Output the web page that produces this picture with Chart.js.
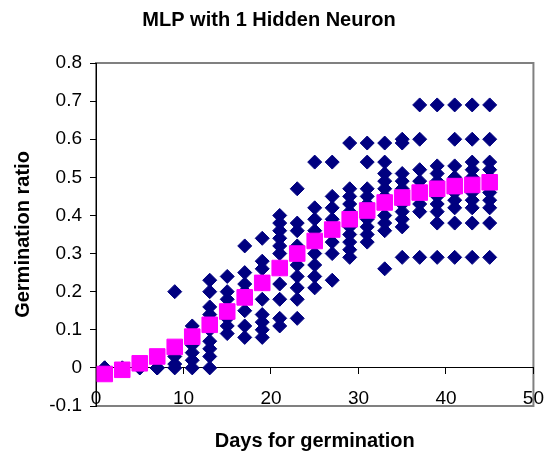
<!DOCTYPE html>
<html>
<head>
<meta charset="utf-8">
<script src="https://cdn.jsdelivr.net/npm/chart.js@4"></script>
<style>
  body { margin: 0; background: #fff; }
  #wrap { width: 557px; height: 459px; }
</style>
</head>
<body>
<div id="wrap"><canvas id="mlpChart" width="557" height="459"></canvas></div>
<script>
// === DATOS ===
const days = [1, 3, 5, 7, 9, 11, 13, 15, 17, 19, 21, 23, 25, 27, 29, 31, 33, 35, 37, 39, 41, 43, 45];

// observed germination ratio per day (replicates)
const observed = [
  [0, 0, 0],
  [0, 0],
  [0, 0],
  [0, 0, 0],
  [0, 0.01, 0.03, 0.2],
  [0, 0.02, 0.04, 0.06, 0.08, 0.11],
  [0, 0.03, 0.05, 0.07, 0.1, 0.12, 0.14, 0.16, 0.2, 0.23],
  [0.09, 0.11, 0.13, 0.15, 0.18, 0.2, 0.24],
  [0.08, 0.11, 0.15, 0.18, 0.2, 0.22, 0.25, 0.32],
  [0.08, 0.1, 0.12, 0.14, 0.18, 0.22, 0.26, 0.28, 0.34],
  [0.11, 0.13, 0.18, 0.22, 0.26, 0.3, 0.32, 0.34, 0.36, 0.38, 0.4],
  [0.13, 0.18, 0.21, 0.24, 0.27, 0.3, 0.32, 0.36, 0.38, 0.47],
  [0.21, 0.24, 0.27, 0.3, 0.33, 0.36, 0.39, 0.42, 0.54],
  [0.23, 0.3, 0.33, 0.36, 0.39, 0.42, 0.45, 0.54],
  [0.29, 0.31, 0.33, 0.35, 0.37, 0.39, 0.41, 0.43, 0.45, 0.47, 0.59],
  [0.33, 0.35, 0.37, 0.39, 0.41, 0.43, 0.45, 0.47, 0.54, 0.59],
  [0.26, 0.36, 0.38, 0.4, 0.43, 0.45, 0.47, 0.49, 0.51, 0.54, 0.59],
  [0.29, 0.37, 0.39, 0.41, 0.43, 0.45, 0.47, 0.49, 0.51, 0.59, 0.6],
  [0.29, 0.41, 0.43, 0.45, 0.47, 0.49, 0.52, 0.6, 0.69],
  [0.29, 0.38, 0.41, 0.43, 0.45, 0.47, 0.49, 0.51, 0.53, 0.69],
  [0.29, 0.38, 0.42, 0.44, 0.46, 0.48, 0.5, 0.53, 0.6, 0.69],
  [0.29, 0.38, 0.42, 0.44, 0.46, 0.48, 0.5, 0.52, 0.54, 0.6, 0.69],
  [0.29, 0.38, 0.42, 0.44, 0.46, 0.48, 0.5, 0.52, 0.54, 0.6, 0.69]
];

// MLP output
const predicted = [-0.016, -0.005, 0.012, 0.03, 0.055, 0.082, 0.113, 0.148, 0.185, 0.223, 0.262, 0.3,
  0.333, 0.363, 0.39, 0.413, 0.434, 0.447, 0.46, 0.47, 0.477, 0.48, 0.487];

const xTicks = [0, 10, 20, 30, 40, 50];
const yTicks = [-0.1, 0, 0.1, 0.2, 0.3, 0.4, 0.5, 0.6, 0.7, 0.8];

const FONT = "Arial, 'Liberation Sans', sans-serif";

// === PUNTOS ===
const observedPoints = [];
days.forEach(function (d, i) {
  observed[i].forEach(function (v) { observedPoints.push({ x: d, y: v }); });
});
const predictedPoints = days.map(function (d, i) { return { x: d, y: predicted[i] }; });

// borde gris del área de trazado
const plotBorder = {
  id: "plotBorder",
  beforeDraw: function (chart) {
    const a = chart.chartArea, ctx = chart.ctx;
    ctx.save();
    ctx.strokeStyle = "#808080";
    ctx.lineWidth = 2;
    ctx.strokeRect(a.left, a.top, a.right - a.left, a.bottom - a.top);
    ctx.restore();
  }
};

new Chart(document.getElementById("mlpChart"), {
  type: "scatter",
  data: {
    datasets: [
      {
        label: "MLP",
        data: predictedPoints,
        pointStyle: "rect",
        pointRadius: 11,
        pointBorderWidth: 1,
        backgroundColor: "#FF00FF",
        borderColor: "#FF00FF",
        order: 0
      },
      {
        label: "Observed",
        data: observedPoints,
        pointStyle: "rectRot",
        pointRadius: 7,
        pointBorderWidth: 1,
        backgroundColor: "#000080",
        borderColor: "#000080",
        order: 1
      }
    ]
  },
  options: {
    responsive: false,
    animation: false,
    layout: { padding: { top: 0, left: 0, right: 19, bottom: 2 } },
    plugins: {
      legend: { display: false },
      tooltip: { enabled: false },
      title: {
        display: true,
        text: "MLP with 1 Hidden Neuron",
        color: "#000",
        font: { family: FONT, size: 20, weight: "bold" },
        padding: { top: 8, bottom: 31 }
      }
    },
    scales: {
      x: {
        type: "linear",
        position: { y: 0 },
        min: 0,
        max: 50,
        afterBuildTicks: function (s) { s.ticks = xTicks.map(function (v) { return { value: v }; }); },
        ticks: { color: "#000", font: { family: FONT, size: 19 }, padding: 13, maxRotation: 0 },
        grid: { drawOnChartArea: false, tickLength: 6, color: "#000" },
        border: { color: "#000", width: 1 }
      },
      xt: {
        type: "linear",
        position: "bottom",
        ticks: { display: false },
        grid: { display: false, drawTicks: false },
        border: { display: false },
        title: {
          display: true,
          text: "Days for germination",
          color: "#000",
          font: { family: FONT, size: 20, weight: "bold" },
          padding: { top: 23, bottom: 4 }
        }
      },
      y: {
        type: "linear",
        min: -0.1,
        max: 0.8,
        afterBuildTicks: function (s) { s.ticks = yTicks.map(function (v) { return { value: v }; }); },
        afterFit: function (s) { s.width = 96; },
        ticks: {
          color: "#000",
          font: { family: FONT, size: 19 },
          padding: 8,
          callback: function (v) { return String(Number(v.toFixed(1))); }
        },
        grid: { drawOnChartArea: false, tickLength: 6, color: "#000" },
        border: { color: "#000", width: 1 },
        title: {
          display: true,
          text: "Germination ratio",
          color: "#000",
          font: { family: FONT, size: 20, weight: "bold" },
          padding: { top: 11, bottom: 0 }
        }
      }
    }
  },
  plugins: [plotBorder]
});
</script>
</body>
</html>
